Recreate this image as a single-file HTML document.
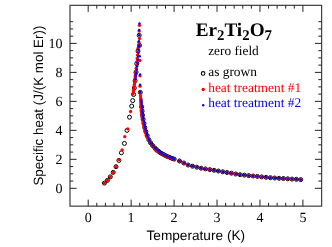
<!DOCTYPE html>
<html><head><meta charset="utf-8"><title>Er2Ti2O7 specific heat</title>
<style>html,body{margin:0;padding:0;background:#fff;}body{width:332px;height:247px;overflow:hidden;font-family:"Liberation Sans",sans-serif;}svg{display:block;will-change:transform}text{text-rendering:geometricPrecision}.se{font-family:"Liberation Serif",serif}.sa{font-family:"Liberation Sans",sans-serif}</style>
</head><body>
<svg width="332" height="247" viewBox="0 0 332 247">
<rect x="0" y="0" width="332" height="247" fill="#fff"/>
<g stroke="#444" stroke-width="1.25" fill="none">
<rect x="70.0" y="5.35" width="251.6" height="200.8"/>
</g>
<g stroke="#222" stroke-width="1" fill="none">
<path d="M88.20 206.1v-6.5M88.20 5.35v6.5"/>
<path d="M96.79 206.1v-3.3M96.79 5.35v3.3"/>
<path d="M105.38 206.1v-3.3M105.38 5.35v3.3"/>
<path d="M113.96 206.1v-3.3M113.96 5.35v3.3"/>
<path d="M122.55 206.1v-3.3M122.55 5.35v3.3"/>
<path d="M131.14 206.1v-6.5M131.14 5.35v6.5"/>
<path d="M139.73 206.1v-3.3M139.73 5.35v3.3"/>
<path d="M148.32 206.1v-3.3M148.32 5.35v3.3"/>
<path d="M156.90 206.1v-3.3M156.90 5.35v3.3"/>
<path d="M165.49 206.1v-3.3M165.49 5.35v3.3"/>
<path d="M174.08 206.1v-6.5M174.08 5.35v6.5"/>
<path d="M182.67 206.1v-3.3M182.67 5.35v3.3"/>
<path d="M191.26 206.1v-3.3M191.26 5.35v3.3"/>
<path d="M199.84 206.1v-3.3M199.84 5.35v3.3"/>
<path d="M208.43 206.1v-3.3M208.43 5.35v3.3"/>
<path d="M217.02 206.1v-6.5M217.02 5.35v6.5"/>
<path d="M225.61 206.1v-3.3M225.61 5.35v3.3"/>
<path d="M234.20 206.1v-3.3M234.20 5.35v3.3"/>
<path d="M242.78 206.1v-3.3M242.78 5.35v3.3"/>
<path d="M251.37 206.1v-3.3M251.37 5.35v3.3"/>
<path d="M259.96 206.1v-6.5M259.96 5.35v6.5"/>
<path d="M268.55 206.1v-3.3M268.55 5.35v3.3"/>
<path d="M277.14 206.1v-3.3M277.14 5.35v3.3"/>
<path d="M285.72 206.1v-3.3M285.72 5.35v3.3"/>
<path d="M294.31 206.1v-3.3M294.31 5.35v3.3"/>
<path d="M302.90 206.1v-6.5M302.90 5.35v6.5"/>
<path d="M70.0 188.30h6.6M321.55 188.30h-6.6"/>
<path d="M70.0 181.06h3.2M321.55 181.06h-3.2"/>
<path d="M70.0 173.81h3.2M321.55 173.81h-3.2"/>
<path d="M70.0 166.56h3.2M321.55 166.56h-3.2"/>
<path d="M70.0 159.32h6.6M321.55 159.32h-6.6"/>
<path d="M70.0 152.08h3.2M321.55 152.08h-3.2"/>
<path d="M70.0 144.83h3.2M321.55 144.83h-3.2"/>
<path d="M70.0 137.59h3.2M321.55 137.59h-3.2"/>
<path d="M70.0 130.34h6.6M321.55 130.34h-6.6"/>
<path d="M70.0 123.10h3.2M321.55 123.10h-3.2"/>
<path d="M70.0 115.85h3.2M321.55 115.85h-3.2"/>
<path d="M70.0 108.61h3.2M321.55 108.61h-3.2"/>
<path d="M70.0 101.36h6.6M321.55 101.36h-6.6"/>
<path d="M70.0 94.12h3.2M321.55 94.12h-3.2"/>
<path d="M70.0 86.87h3.2M321.55 86.87h-3.2"/>
<path d="M70.0 79.63h3.2M321.55 79.63h-3.2"/>
<path d="M70.0 72.38h6.6M321.55 72.38h-6.6"/>
<path d="M70.0 65.14h3.2M321.55 65.14h-3.2"/>
<path d="M70.0 57.89h3.2M321.55 57.89h-3.2"/>
<path d="M70.0 50.65h3.2M321.55 50.65h-3.2"/>
<path d="M70.0 43.40h6.6M321.55 43.40h-6.6"/>
<path d="M70.0 36.16h3.2M321.55 36.16h-3.2"/>
<path d="M70.0 28.91h3.2M321.55 28.91h-3.2"/>
<path d="M70.0 21.67h3.2M321.55 21.67h-3.2"/>
</g>
<g class="se" font-size="14" fill="#000">
<text x="88.2" y="221.6" text-anchor="middle">0</text>
<text x="131.1" y="221.6" text-anchor="middle">1</text>
<text x="174.1" y="221.6" text-anchor="middle">2</text>
<text x="217.0" y="221.6" text-anchor="middle">3</text>
<text x="260.0" y="221.6" text-anchor="middle">4</text>
<text x="302.9" y="221.6" text-anchor="middle">5</text>
<text x="62.6" y="193.1" text-anchor="end">0</text>
<text x="62.6" y="164.1" text-anchor="end">2</text>
<text x="62.6" y="135.1" text-anchor="end">4</text>
<text x="62.6" y="106.2" text-anchor="end">6</text>
<text x="62.6" y="77.2" text-anchor="end">8</text>
<text x="62.6" y="48.2" text-anchor="end">10</text>
</g>
<g class="sa" font-size="13.4" fill="#000">
<text x="195.8" y="239.6" font-size="13.65" text-anchor="middle">Temperature (K)</text>
<text transform="translate(43.3,105.6) rotate(-90)" text-anchor="middle">Specific heat (J/(K mol Er))</text>
</g>
<g fill="none" stroke="#000" stroke-width="1.0">
<circle cx="104.4" cy="183.1" r="2.0"/>
<circle cx="107.4" cy="180.4" r="2.0"/>
<circle cx="110.3" cy="176.8" r="2.0"/>
<circle cx="113.2" cy="172.4" r="2.0"/>
<circle cx="116.0" cy="166.7" r="2.0"/>
<circle cx="118.9" cy="160.4" r="2.0"/>
<circle cx="121.4" cy="152.8" r="2.0"/>
<circle cx="124.4" cy="143.4" r="2.0"/>
<circle cx="127.0" cy="130.4" r="2.0"/>
<circle cx="129.5" cy="117.2" r="2.0"/>
<circle cx="131.7" cy="106.1" r="2.0"/>
<circle cx="132.7" cy="100.6" r="2.0"/>
<circle cx="133.6" cy="94.5" r="2.0"/>
<circle cx="134.3" cy="88.0" r="2.0"/>
<circle cx="135.1" cy="80.7" r="2.0"/>
<circle cx="136.0" cy="72.2" r="2.0"/>
<circle cx="136.8" cy="63.6" r="2.0"/>
<circle cx="138.0" cy="51.0" r="2.0"/>
<circle cx="139.5" cy="45.4" r="2.0"/>
<circle cx="139.2" cy="35.3" r="2.0"/>
<circle cx="140.3" cy="92.4" r="2.0"/>
<circle cx="141.7" cy="106.8" r="2.0"/>
<circle cx="142.1" cy="111.0" r="2.0"/>
<circle cx="142.5" cy="115.2" r="2.0"/>
<circle cx="143.1" cy="119.3" r="2.0"/>
<circle cx="144.0" cy="123.4" r="2.0"/>
<circle cx="144.8" cy="127.5" r="2.0"/>
<circle cx="145.9" cy="131.6" r="2.0"/>
<circle cx="147.2" cy="135.6" r="2.0"/>
<circle cx="148.9" cy="139.8" r="2.0"/>
<circle cx="150.6" cy="142.8" r="2.0"/>
<circle cx="152.6" cy="145.5" r="2.0"/>
<circle cx="154.9" cy="148.0" r="2.0"/>
<circle cx="156.5" cy="149.7" r="2.0"/>
<circle cx="158.3" cy="151.1" r="2.0"/>
<circle cx="160.0" cy="152.5" r="2.0"/>
<circle cx="161.9" cy="153.6" r="2.0"/>
<circle cx="163.9" cy="154.7" r="2.0"/>
<circle cx="165.9" cy="155.8" r="2.0"/>
<circle cx="167.9" cy="156.7" r="2.0"/>
<circle cx="170.0" cy="157.5" r="2.0"/>
<circle cx="172.1" cy="158.4" r="2.0"/>
<circle cx="174.2" cy="159.1" r="2.0"/>
<circle cx="300.7" cy="179.6" r="2.0"/>
<circle cx="296.4" cy="179.3" r="2.0"/>
<circle cx="292.0" cy="179.1" r="2.0"/>
<circle cx="287.7" cy="178.8" r="2.0"/>
<circle cx="283.4" cy="178.5" r="2.0"/>
<circle cx="279.1" cy="178.3" r="2.0"/>
<circle cx="274.7" cy="178.0" r="2.0"/>
<circle cx="270.4" cy="177.7" r="2.0"/>
<circle cx="266.1" cy="177.3" r="2.0"/>
<circle cx="261.7" cy="176.9" r="2.0"/>
<circle cx="257.4" cy="176.4" r="2.0"/>
<circle cx="253.1" cy="176.0" r="2.0"/>
<circle cx="248.7" cy="175.6" r="2.0"/>
<circle cx="244.4" cy="175.1" r="2.0"/>
<circle cx="240.1" cy="174.7" r="2.0"/>
<circle cx="235.8" cy="174.0" r="2.0"/>
<circle cx="231.4" cy="173.2" r="2.0"/>
<circle cx="227.1" cy="172.5" r="2.0"/>
<circle cx="222.8" cy="171.8" r="2.0"/>
<circle cx="218.4" cy="171.0" r="2.0"/>
<circle cx="214.1" cy="170.3" r="2.0"/>
<circle cx="209.8" cy="169.6" r="2.0"/>
<circle cx="205.4" cy="168.9" r="2.0"/>
<circle cx="201.1" cy="168.2" r="2.0"/>
<circle cx="196.8" cy="167.2" r="2.0"/>
<circle cx="192.5" cy="166.2" r="2.0"/>
<circle cx="188.1" cy="165.0" r="2.0"/>
<circle cx="183.8" cy="163.0" r="2.0"/>
<circle cx="179.5" cy="161.0" r="2.0"/>
</g>
<g fill="#f00">
<circle cx="104.4" cy="183.1" r="1.65"/>
<circle cx="107.4" cy="180.4" r="1.65"/>
<circle cx="110.3" cy="176.8" r="1.65"/>
<circle cx="113.2" cy="172.4" r="1.65"/>
<circle cx="116.0" cy="166.7" r="1.65"/>
<circle cx="118.9" cy="159.7" r="1.65"/>
<circle cx="122.1" cy="150.0" r="1.65"/>
<circle cx="124.8" cy="136.7" r="1.65"/>
<circle cx="127.8" cy="128.8" r="1.65"/>
<circle cx="130.6" cy="111.5" r="1.65"/>
<circle cx="132.9" cy="94.0" r="1.65"/>
<circle cx="133.3" cy="92.1" r="1.65"/>
<circle cx="133.6" cy="90.3" r="1.65"/>
<circle cx="133.9" cy="88.4" r="1.65"/>
<circle cx="134.2" cy="86.5" r="1.65"/>
<circle cx="134.4" cy="84.6" r="1.65"/>
<circle cx="134.6" cy="82.7" r="1.65"/>
<circle cx="134.8" cy="80.8" r="1.65"/>
<circle cx="135.0" cy="78.9" r="1.65"/>
<circle cx="135.2" cy="77.1" r="1.65"/>
<circle cx="135.4" cy="75.2" r="1.65"/>
<circle cx="135.6" cy="73.3" r="1.65"/>
<circle cx="135.7" cy="71.5" r="1.65"/>
<circle cx="136.2" cy="68.2" r="1.65"/>
<circle cx="136.6" cy="65.0" r="1.65"/>
<circle cx="136.9" cy="61.7" r="1.65"/>
<circle cx="137.2" cy="58.4" r="1.65"/>
<circle cx="137.5" cy="55.1" r="1.65"/>
<circle cx="137.8" cy="51.8" r="1.65"/>
<circle cx="138.0" cy="48.5" r="1.65"/>
<circle cx="139.4" cy="25.3" r="1.65"/>
<circle cx="139.1" cy="31.0" r="1.65"/>
<circle cx="139.5" cy="38.6" r="1.65"/>
<circle cx="138.8" cy="42.3" r="1.65"/>
<circle cx="139.2" cy="46.0" r="1.65"/>
<circle cx="139.8" cy="60.5" r="1.65"/>
<circle cx="140.0" cy="75.8" r="1.65"/>
<circle cx="140.0" cy="86.2" r="1.65"/>
<circle cx="140.2" cy="93.2" r="1.65"/>
<circle cx="140.5" cy="96.0" r="1.65"/>
<circle cx="140.7" cy="98.3" r="1.65"/>
<circle cx="140.7" cy="99.8" r="1.65"/>
<circle cx="140.8" cy="101.4" r="1.65"/>
<circle cx="140.9" cy="103.0" r="1.65"/>
<circle cx="141.0" cy="104.6" r="1.65"/>
<circle cx="141.1" cy="106.2" r="1.65"/>
<circle cx="141.2" cy="107.8" r="1.65"/>
<circle cx="141.4" cy="109.4" r="1.65"/>
<circle cx="141.5" cy="111.0" r="1.65"/>
<circle cx="141.7" cy="112.6" r="1.65"/>
<circle cx="141.9" cy="114.2" r="1.65"/>
<circle cx="142.0" cy="115.7" r="1.65"/>
<circle cx="142.2" cy="117.3" r="1.65"/>
<circle cx="142.5" cy="118.9" r="1.65"/>
<circle cx="142.8" cy="120.5" r="1.65"/>
<circle cx="143.1" cy="122.0" r="1.65"/>
<circle cx="143.4" cy="123.6" r="1.65"/>
<circle cx="143.8" cy="125.2" r="1.65"/>
<circle cx="144.1" cy="126.7" r="1.65"/>
<circle cx="144.4" cy="128.3" r="1.65"/>
<circle cx="144.8" cy="129.9" r="1.65"/>
<circle cx="145.3" cy="131.4" r="1.65"/>
<circle cx="145.8" cy="132.9" r="1.65"/>
<circle cx="146.3" cy="134.4" r="1.65"/>
<circle cx="146.8" cy="135.9" r="1.65"/>
<circle cx="147.3" cy="137.5" r="1.65"/>
<circle cx="148.8" cy="140.0" r="1.65"/>
<circle cx="150.4" cy="142.9" r="1.65"/>
<circle cx="152.5" cy="145.6" r="1.65"/>
<circle cx="154.7" cy="148.2" r="1.65"/>
<circle cx="156.3" cy="149.8" r="1.65"/>
<circle cx="158.1" cy="151.2" r="1.65"/>
<circle cx="159.9" cy="152.6" r="1.65"/>
<circle cx="161.8" cy="153.8" r="1.65"/>
<circle cx="163.8" cy="154.9" r="1.65"/>
<circle cx="165.7" cy="156.0" r="1.65"/>
<circle cx="167.8" cy="156.9" r="1.65"/>
<circle cx="169.9" cy="157.7" r="1.65"/>
<circle cx="172.0" cy="158.5" r="1.65"/>
<circle cx="174.1" cy="159.3" r="1.65"/>
<circle cx="155.2" cy="149.8" r="1.65"/>
<circle cx="156.5" cy="150.9" r="1.65"/>
<circle cx="300.7" cy="179.6" r="1.65"/>
<circle cx="296.4" cy="179.3" r="1.65"/>
<circle cx="292.0" cy="179.1" r="1.65"/>
<circle cx="287.7" cy="178.8" r="1.65"/>
<circle cx="283.4" cy="178.5" r="1.65"/>
<circle cx="279.1" cy="178.3" r="1.65"/>
<circle cx="274.7" cy="178.0" r="1.65"/>
<circle cx="270.4" cy="177.7" r="1.65"/>
<circle cx="266.1" cy="177.3" r="1.65"/>
<circle cx="261.7" cy="176.9" r="1.65"/>
<circle cx="257.4" cy="176.4" r="1.65"/>
<circle cx="253.1" cy="176.0" r="1.65"/>
<circle cx="248.7" cy="175.6" r="1.65"/>
<circle cx="244.4" cy="175.1" r="1.65"/>
<circle cx="240.1" cy="174.7" r="1.65"/>
<circle cx="235.8" cy="174.0" r="1.65"/>
<circle cx="231.4" cy="173.2" r="1.65"/>
<circle cx="227.1" cy="172.5" r="1.65"/>
<circle cx="222.8" cy="171.8" r="1.65"/>
<circle cx="218.4" cy="171.0" r="1.65"/>
<circle cx="214.1" cy="170.3" r="1.65"/>
<circle cx="209.8" cy="169.6" r="1.65"/>
<circle cx="205.4" cy="168.9" r="1.65"/>
<circle cx="201.1" cy="168.2" r="1.65"/>
<circle cx="196.8" cy="167.2" r="1.65"/>
<circle cx="192.5" cy="166.2" r="1.65"/>
<circle cx="188.1" cy="165.0" r="1.65"/>
<circle cx="183.8" cy="163.0" r="1.65"/>
<circle cx="179.5" cy="161.0" r="1.65"/>
</g>
<g fill="#00f">
<circle cx="135.6" cy="79.0" r="1.2"/>
<circle cx="135.8" cy="76.6" r="1.2"/>
<circle cx="136.1" cy="74.2" r="1.2"/>
<circle cx="136.3" cy="72.8" r="1.2"/>
<circle cx="136.7" cy="69.5" r="1.2"/>
<circle cx="137.1" cy="66.3" r="1.2"/>
<circle cx="137.5" cy="63.0" r="1.2"/>
<circle cx="137.8" cy="59.7" r="1.2"/>
<circle cx="138.1" cy="56.4" r="1.2"/>
<circle cx="138.4" cy="53.1" r="1.2"/>
<circle cx="138.6" cy="49.8" r="1.2"/>
<circle cx="138.7" cy="46.5" r="1.2"/>
<circle cx="139.5" cy="23.4" r="1.2"/>
<circle cx="139.2" cy="30.0" r="1.2"/>
<circle cx="139.2" cy="35.3" r="1.2"/>
<circle cx="138.9" cy="41.3" r="1.2"/>
<circle cx="139.4" cy="45.2" r="1.2"/>
<circle cx="139.7" cy="56.2" r="1.2"/>
<circle cx="140.1" cy="74.4" r="1.2"/>
<circle cx="140.1" cy="84.8" r="1.2"/>
<circle cx="140.3" cy="92.0" r="1.2"/>
<circle cx="149.0" cy="139.7" r="1.2"/>
<circle cx="150.7" cy="142.7" r="1.2"/>
<circle cx="152.7" cy="145.4" r="1.2"/>
<circle cx="155.0" cy="147.9" r="1.2"/>
<circle cx="156.6" cy="149.6" r="1.2"/>
<circle cx="158.4" cy="151.0" r="1.2"/>
<circle cx="160.1" cy="152.4" r="1.2"/>
<circle cx="162.0" cy="153.5" r="1.2"/>
<circle cx="164.0" cy="154.6" r="1.2"/>
<circle cx="166.0" cy="155.7" r="1.2"/>
<circle cx="168.0" cy="156.6" r="1.2"/>
<circle cx="170.1" cy="157.4" r="1.2"/>
<circle cx="172.2" cy="158.3" r="1.2"/>
<circle cx="174.3" cy="159.0" r="1.2"/>
<circle cx="300.7" cy="179.6" r="1.2"/>
<circle cx="296.4" cy="179.3" r="1.2"/>
<circle cx="292.0" cy="179.1" r="1.2"/>
<circle cx="287.7" cy="178.8" r="1.2"/>
<circle cx="283.4" cy="178.5" r="1.2"/>
<circle cx="279.1" cy="178.3" r="1.2"/>
<circle cx="274.7" cy="178.0" r="1.2"/>
<circle cx="270.4" cy="177.7" r="1.2"/>
<circle cx="266.1" cy="177.3" r="1.2"/>
<circle cx="261.7" cy="176.9" r="1.2"/>
<circle cx="257.4" cy="176.4" r="1.2"/>
<circle cx="253.1" cy="176.0" r="1.2"/>
<circle cx="248.7" cy="175.6" r="1.2"/>
<circle cx="244.4" cy="175.1" r="1.2"/>
<circle cx="240.1" cy="174.7" r="1.2"/>
<circle cx="235.8" cy="174.0" r="1.2"/>
<circle cx="231.4" cy="173.2" r="1.2"/>
<circle cx="227.1" cy="172.5" r="1.2"/>
<circle cx="222.8" cy="171.8" r="1.2"/>
<circle cx="218.4" cy="171.0" r="1.2"/>
<circle cx="214.1" cy="170.3" r="1.2"/>
<circle cx="209.8" cy="169.6" r="1.2"/>
<circle cx="205.4" cy="168.9" r="1.2"/>
<circle cx="201.1" cy="168.2" r="1.2"/>
<circle cx="196.8" cy="167.2" r="1.2"/>
<circle cx="192.5" cy="166.2" r="1.2"/>
<circle cx="188.1" cy="165.0" r="1.2"/>
<circle cx="183.8" cy="163.0" r="1.2"/>
<circle cx="179.5" cy="161.0" r="1.2"/>
<circle cx="141.6" cy="99.8" r="1.12"/>
<circle cx="141.6" cy="101.1" r="1.12"/>
<circle cx="141.7" cy="102.4" r="1.12"/>
<circle cx="141.7" cy="103.7" r="1.12"/>
<circle cx="141.8" cy="105.0" r="1.12"/>
<circle cx="141.9" cy="106.3" r="1.12"/>
<circle cx="142.1" cy="107.6" r="1.12"/>
<circle cx="142.2" cy="108.9" r="1.12"/>
<circle cx="142.3" cy="110.2" r="1.12"/>
<circle cx="142.4" cy="111.5" r="1.12"/>
<circle cx="142.6" cy="112.8" r="1.12"/>
<circle cx="142.7" cy="114.0" r="1.12"/>
<circle cx="142.8" cy="115.3" r="1.12"/>
<circle cx="143.0" cy="116.6" r="1.12"/>
<circle cx="143.2" cy="117.9" r="1.12"/>
<circle cx="143.4" cy="119.2" r="1.12"/>
<circle cx="143.7" cy="120.5" r="1.12"/>
<circle cx="144.0" cy="121.7" r="1.12"/>
<circle cx="144.2" cy="123.0" r="1.12"/>
<circle cx="144.5" cy="124.3" r="1.12"/>
<circle cx="144.7" cy="125.6" r="1.12"/>
<circle cx="145.0" cy="126.8" r="1.12"/>
<circle cx="145.3" cy="128.1" r="1.12"/>
<circle cx="145.6" cy="129.4" r="1.12"/>
<circle cx="146.0" cy="130.6" r="1.12"/>
<circle cx="146.4" cy="131.8" r="1.12"/>
<circle cx="146.8" cy="133.1" r="1.12"/>
<circle cx="147.2" cy="134.3" r="1.12"/>
<circle cx="147.6" cy="135.5" r="1.12"/>
<circle cx="148.0" cy="136.8" r="1.12"/>
<circle cx="148.4" cy="138.0" r="1.12"/>
</g>
<g class="se" fill="#000">
<text x="195.7" y="35.7" font-size="19.2" font-weight="bold">Er<tspan font-size="14.8" dy="4.3">2</tspan><tspan dy="-4.3">Ti</tspan><tspan font-size="14.8" dy="4.3">2</tspan><tspan dy="-4.3">O</tspan><tspan font-size="14.8" dy="4.3">7</tspan></text>
<text x="208.2" y="55.0" font-size="13.3">zero field</text>
<text x="208.2" y="76.2" font-size="13.4">as grown</text>
<text x="208.2" y="91.7" font-size="13.4" fill="#f00">heat treatment #1</text>
<text x="208.2" y="107.2" font-size="13.4" fill="#00f">heat treatment #2</text>
</g>
<circle cx="203.1" cy="73.4" r="1.8" fill="none" stroke="#000" stroke-width="1.05"/>
<circle cx="203.2" cy="89.5" r="1.65" fill="#f00"/>
<circle cx="203.2" cy="105.3" r="1.2" fill="#00f"/>
</svg>
</body></html>
